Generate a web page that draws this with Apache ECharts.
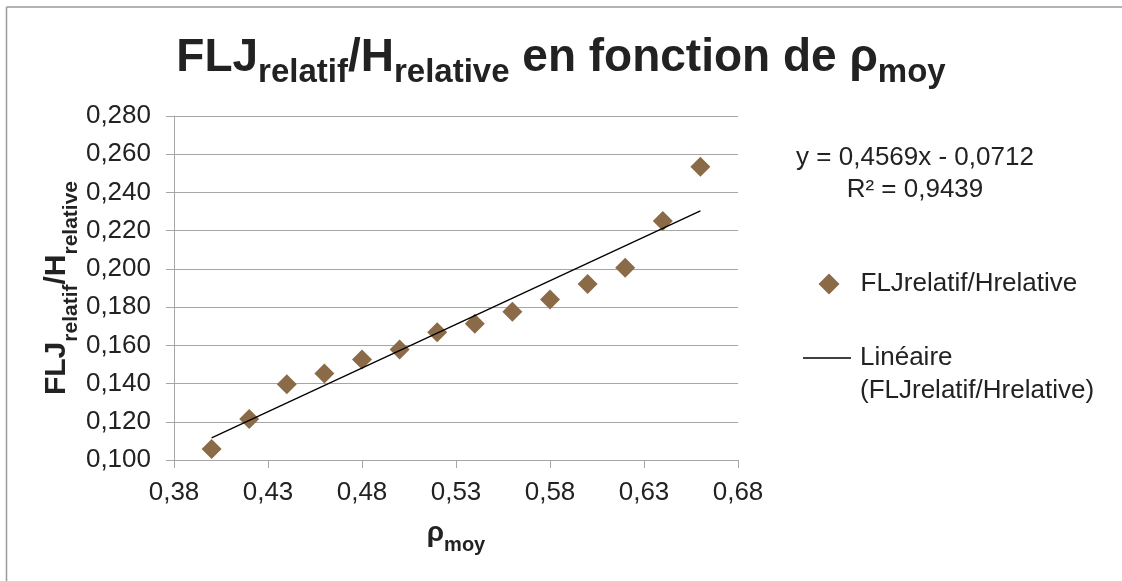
<!DOCTYPE html>
<html><head><meta charset="utf-8">
<script src="https://cdn.jsdelivr.net/npm/echarts@6/dist/echarts.min.js"></script>
<style>html,body{margin:0;padding:0;background:#fff}#c{width:1122px;height:581px}</style>
</head><body><div id="c"></div>
<script>
// ---- data ----
const rhoMoy = [0.40, 0.42, 0.44, 0.46, 0.48, 0.50, 0.52, 0.54, 0.56, 0.58, 0.60, 0.62, 0.64, 0.66];
const fljRatio = [0.1058, 0.1215, 0.1397, 0.1453, 0.1526, 0.1578, 0.1669, 0.1713, 0.1776, 0.1840, 0.1921, 0.2006, 0.2251, 0.2534];
const xTickValues = [0.38, 0.43, 0.48, 0.53, 0.58, 0.63, 0.68];
const yMin = 0.10, yMax = 0.28, yStep = 0.02;
const trendSlope = 0.4569, trendIntercept = -0.0712;
const seriesName = 'FLJrelatif/Hrelative';
const trendName = 'Linéaire (FLJrelatif/Hrelative)';
const equationLines = ['y = 0,4569x - 0,0712', 'R² = 0,9439'];

// ---- styles ----
const FONT = '"Liberation Sans", Arial, sans-serif';
const TXT = '#222222';
const GRID = '#A6A6A6';
const MARK = '#8B6A47';

const x0 = rhoMoy[0], x1 = rhoMoy[rhoMoy.length - 1];
const trendData = [[x0, trendSlope * x0 + trendIntercept], [x1, trendSlope * x1 + trendIntercept]];

const chart = echarts.init(document.getElementById('c'), null, {renderer: 'canvas'});
chart.setOption({
  animation: false,
  backgroundColor: '#fff',
  title: {
    text: '{m|FLJ}{s|relatif}{m|/H}{s|relative}{m| en fonction de ρ}{s|moy}',
    left: 'center', top: 30, padding: 0,
    textStyle: {
      rich: {
        m: {fontSize: 46, fontWeight: 'bold', fontFamily: FONT, color: TXT, lineHeight: 56},
        s: {fontSize: 33, fontWeight: 'bold', fontFamily: FONT, color: TXT, lineHeight: 56, padding: [30, 0, 0, 0]}
      }
    }
  },
  grid: {left: 174, right: 384, top: 116, bottom: 121, containLabel: false},
  xAxis: {
    type: 'value', min: 0.38, max: 0.68,
    name: '{m|ρ}{s|moy}', nameLocation: 'middle', nameGap: 55, nameMoveOverlap: false,
    nameTextStyle: {
      rich: {
        m: {fontSize: 28, fontWeight: 'bold', fontFamily: FONT, color: TXT, lineHeight: 36},
        s: {fontSize: 20, fontWeight: 'bold', fontFamily: FONT, color: TXT, lineHeight: 36, padding: [25, 0, 0, 0]}
      }
    },
    axisLine: {show: true, lineStyle: {color: GRID, width: 1}},
    axisTick: {show: true, inside: false, length: 8, customValues: xTickValues, lineStyle: {color: GRID}},
    axisLabel: {customValues: xTickValues, fontSize: 26, fontFamily: FONT, color: TXT, margin: 20,
      formatter: v => v.toFixed(2).replace('.', ',')},
    splitLine: {show: false}
  },
  yAxis: {
    type: 'value', min: yMin, max: yMax, interval: yStep,
    name: '{m|FLJ}{s|relatif}{m|/H}{s|relative}', nameLocation: 'middle', nameRotate: 90, nameGap: 97,
    nameMoveOverlap: false,
    nameTextStyle: {
      rich: {
        m: {fontSize: 30, fontWeight: 'bold', fontFamily: FONT, color: TXT, lineHeight: 40},
        s: {fontSize: 21, fontWeight: 'bold', fontFamily: FONT, color: TXT, lineHeight: 40, padding: [29, 0, 0, 0]}
      }
    },
    axisLine: {show: true, lineStyle: {color: GRID, width: 1}},
    axisTick: {show: true, inside: false, length: 8, lineStyle: {color: GRID}},
    axisLabel: {fontSize: 26, fontFamily: FONT, color: TXT, margin: 23,
      formatter: v => v.toFixed(3).replace('.', ',')},
    splitLine: {show: true, lineStyle: {color: GRID, width: 1}}
  },
  legend: [
    {
      left: 818.5, top: 269, padding: 0, itemWidth: 21, itemHeight: 21,
      data: [{name: seriesName, icon: 'diamond'}],
      textStyle: {fontSize: 26, fontFamily: FONT, color: TXT, lineHeight: 30, padding: [0, 0, 0, 16]}
    },
    {
      left: 803, top: 308.5, padding: 0, itemWidth: 48, itemHeight: 1.5,
      data: [{name: trendName, icon: 'rect'}],
      formatter: () => '\u00a0\nLinéaire\n(FLJrelatif/Hrelative)',
      textStyle: {fontSize: 26, fontFamily: FONT, color: TXT, lineHeight: 33, padding: [0, 0, 0, 4]}
    }
  ],
  graphic: [
    {type: 'line', silent: true, shape: {x1: 6.5, y1: 7, x2: 1122, y2: 7}, style: {stroke: '#9A9A9A', lineWidth: 1.5}},
    {type: 'line', silent: true, shape: {x1: 6.5, y1: 7, x2: 6.5, y2: 581}, style: {stroke: '#9A9A9A', lineWidth: 1.5}},
    {type: 'text', silent: true, x: 915, y: 174,
      style: {text: equationLines.join('\n'), font: '26px ' + FONT, fill: TXT, align: 'center', verticalAlign: 'middle', lineHeight: 32}}
  ],
  series: [
    {
      name: seriesName, type: 'scatter', symbol: 'diamond', symbolSize: 20, z: 2,
      itemStyle: {color: MARK, opacity: 1},
      data: rhoMoy.map((x, i) => [x, fljRatio[i]])
    },
    {
      name: trendName, type: 'line', symbol: 'none', showSymbol: false, z: 3, silent: true,
      lineStyle: {color: '#000000', width: 1.3},
      itemStyle: {color: '#000000'},
      data: trendData
    }
  ]
});
</script>
</body></html>
